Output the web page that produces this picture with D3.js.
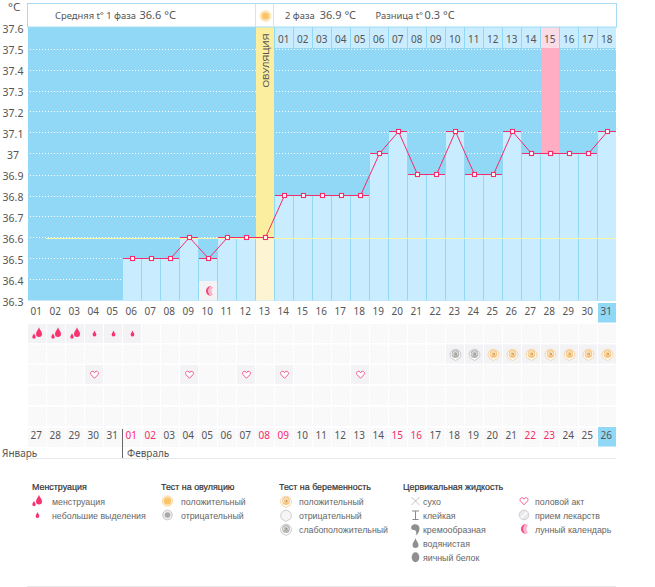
<!DOCTYPE html>
<html><head><meta charset="utf-8">
<script src="https://cdn.jsdelivr.net/npm/d3@7"></script>
<style>
html,body{margin:0;padding:0;background:#fff}
svg{display:block}
text{font-family:"Noto Sans","Open Sans",sans-serif;fill:#555}
.axis path,.axis line{display:none}
.lg text,text.lg{font-family:"Liberation Sans",Arial,sans-serif}
</style></head><body><div id="c"></div>
<script>
const days = d3.range(1, 32);
const topDates = ["01","02","03","04","05","06","07","08","09","10","11","12","13","14","15","16","17","18","19","20","21","22","23","24","25","26","27","28","29","30","31"];
const bottomDates = ["27","28","29","30","31","01","02","03","04","05","06","07","08","09","10","11","12","13","14","15","16","17","18","19","20","21","22","23","24","25","26"];
const redBottomDays = [6,7,13,14,20,21,27,28];
const phase2Labels = ["01","02","03","04","05","06","07","08","09","10","11","12","13","14","15","16","17","18"];
const phase2Days = d3.range(14, 32);
const temps = [null,null,null,null,null,36.5,36.5,36.5,36.6,36.5,36.6,36.6,36.6,36.8,36.8,36.8,36.8,36.8,37.0,37.1,36.9,36.9,37.1,36.9,36.9,37.1,37.0,37.0,37.0,37.0,37.1];
const yTicks = [36.3,36.4,36.5,36.6,36.7,36.8,36.9,37,37.1,37.2,37.3,37.4,37.5,37.6];
const gridTicks = [36.3,36.4,36.5,36.6,36.7,36.8,36.9,37,37.1,37.2,37.3,37.4,37.5];
const ovulationDay = 13, highlightDay = 28, currentDay = 31, moonDay = 10, monthBreakDay = 6;
const heavyDays = [1,2,3], lightDays = [4,5,6];
const testNegDays = [23,24], testPosDays = [25,26,27,28,29,30,31];
const loveDays = [4,9,12,14,18];
const legendColumns = [
 {title:"Менструация", items:[["менструация","heavy"],["небольшие выделения","light"]]},
 {title:"Тест на овуляцию", items:[["положительный","ovPos"],["отрицательный","ovNeg"]]},
 {title:"Тест на беременность", items:[["положительный","prPos"],["отрицательный","prNeg"],["слабоположительный","prWeak"]]},
 {title:"Цервикальная жидкость", items:[["сухо","dry"],["клейкая","sticky"],["кремообразная","creamy"],["водянистая","watery"],["яичный белок","egg"]]},
 {title:"", items:[["половой акт","love"],["прием лекарств","pill"],["лунный календарь","moon"]]}
];

const W = 655, H = 587;
const svg = d3.select("#c").append("svg").attr("width",W).attr("height",H);
const defs = svg.append("defs");
const hatch = defs.append("pattern").attr("id","hatch").attr("width",3).attr("height",3).attr("patternUnits","userSpaceOnUse");
hatch.append("rect").attr("width",3).attr("height",3).attr("fill","#fbfbfc");
hatch.append("path").attr("d","M0,3L3,0").attr("stroke","#f5f5f8").attr("stroke-width",1);
const hatchY = defs.append("pattern").attr("id","hatchY").attr("width",3).attr("height",3).attr("patternUnits","userSpaceOnUse");
hatchY.append("rect").attr("width",3).attr("height",3).attr("fill","#fdf6d8");
hatchY.append("path").attr("d","M0,3L3,0").attr("stroke","#fbf0c4").attr("stroke-width",1);

const x = d3.scaleBand().domain(days).range([28,617]).paddingInner(0).paddingOuter(0);
const cx = d => x(d) + 9.5;
const y = d3.scaleLinear().domain([36.3,37.6]).range([300.4,26.75]);
const yv = d => Math.floor(y(temps[d-1])) + .5;
const yGrid = d3.scaleLinear().domain([36.3,37.6]).range([300.5,27.5]);
const BLUE="#90d8f5", BAR="#c9ecfe", SEP="#93d9f4", RED="#f72c6a";

const fs = (sel,s)=>sel.attr("font-size",s);

svg.append("rect").attr("x",28).attr("y",27).attr("width",588).attr("height",273.5).attr("fill",BLUE);
svg.append("g").selectAll("line").data(gridTicks).join("line")
 .attr("x1",27).attr("x2",616).attr("y1",d=>Math.round(yGrid(d))+.5).attr("y2",d=>Math.round(yGrid(d))+.5)
 .attr("stroke","#fff").attr("stroke-dasharray","1 2").attr("stroke-width",1);
svg.append("rect").attr("x",x(highlightDay)).attr("y",48).attr("width",18).attr("height",yv(highlightDay)-48).attr("fill","#ffadc3");
const valid = days.filter(d=>temps[d-1]!=null);
svg.append("g").selectAll("rect").data(valid.filter(d=>d!==ovulationDay)).join("rect")
 .attr("x",d=>x(d)).attr("y",d=>yv(d)).attr("width",d=>d===31?18:19)
 .attr("height",d=>300.5-yv(d)).attr("fill",BAR);
svg.append("g").selectAll("line").data(valid.filter(d=>d<31)).join("line")
 .attr("x1",d=>x(d)+18.5-5e-3).attr("x2",d=>x(d)+18.5)
 .attr("y1",d=>yv(d)).attr("y2",300.5).attr("stroke",SEP);
svg.append("rect").attr("x",x(ovulationDay)).attr("y",27).attr("width",18).attr("height",yv(ovulationDay)-27).attr("fill","#fcee9f");
svg.append("rect").attr("x",x(ovulationDay)).attr("y",yv(ovulationDay)).attr("width",18).attr("height",300.5-yv(ovulationDay)).attr("fill","url(#hatchY)");
fs(svg.append("text").attr("class","lg").attr("transform",`translate(268.5,87.5) rotate(-90)`).text("ОВУЛЯЦИЯ"),9.7);
svg.append("line").attr("x1",46).attr("x2",616).attr("y1",yv(9)+1).attr("y2",yv(9)+1).attr("stroke","#fbf3a6").attr("stroke-width",1);
svg.append("rect").attr("x",x(moonDay)).attr("y",281).attr("width",18).attr("height",19.5).attr("fill","#f3f2f4");

// header
svg.append("rect").attr("x",27.5).attr("y",3.5).attr("width",589).attr("height",23.5).attr("fill","#fff").attr("stroke","#a5dcf4");
svg.append("g").selectAll("line").data([256,274]).join("line")
 .attr("x1",d=>d-.5).attr("x2",d=>d-.5).attr("y1",3.5).attr("y2",27).attr("stroke","#c5e8f7");
function hdr(xp,label,val,dx){
  const t=svg.append("text").attr("x",xp).attr("y",19).attr("font-size",9.4);
  t.append("tspan").text(label);
  t.append("tspan").attr("font-size",11).attr("dx",dx).text(val);
}
hdr(55,"Средняя t° 1 фаза","36.6 °C",3.5);
hdr(285,"2 фаза","36.9 °C",5);
hdr(375.5,"Разница t°","0.3 °C",1.5);

// phase-2 day labels
svg.append("g").selectAll("rect").data(phase2Days).join("rect")
 .attr("x",d=>x(d)).attr("y",27.5).attr("width",18).attr("height",20.5).attr("fill",d=>d===highlightDay?"#fadbe6":BAR);
svg.append("g").selectAll("text").data(phase2Days).join("text")
 .attr("x",d=>cx(d)-.7).attr("y",43).attr("text-anchor","middle").attr("font-size",10).text((d,i)=>phase2Labels[i]);

// Y axis
const yAxis = svg.append("g").attr("class","axis").attr("transform","translate(13,2)")
 .call(d3.axisLeft(yGrid).tickValues(yTicks).tickSize(0).tickPadding(0).tickFormat(d=>String(+d.toFixed(1))));
yAxis.selectAll("text").attr("font-size",10.5).attr("text-anchor","middle").style("fill","#555");
fs(svg.append("text").attr("x",8).attr("y",11).text("°C"),11.5);

// caps, line, markers
svg.append("g").selectAll("line").data(valid).join("line")
 .attr("x1",d=>x(d)).attr("x2",d=>x(d)+18).attr("y1",yv).attr("y2",yv)
 .attr("stroke",RED).attr("stroke-width",1);
const line = d3.line().defined(d=>temps[d-1]!=null).x(cx).y(yv);
svg.append("path").attr("d",line(days)).attr("fill","none").attr("stroke",RED).attr("stroke-width",1);
svg.append("g").selectAll("rect").data(valid).join("rect")
 .attr("x",d=>cx(d)-2).attr("y",d=>yv(d)-2).attr("width",4).attr("height",4)
 .attr("fill","#fff").attr("stroke",RED).attr("stroke-width",1.1);

// icons
function drop(g,r,c,dx=0,dy=0){
  g.append("path").attr("transform",`translate(${dx},${dy})`).attr("fill",c)
   .attr("d",`M0,${-1.9*r}C${.3*r},${-r} ${r},${-.4*r} ${r},${.3*r}A${r},${r} 0 1 1 ${-r},${.3*r}C${-r},${-.4*r} ${-.3*r},${-r} 0,${-1.9*r}Z`);
}
const icons = {
 heavy(g){drop(g,3,"#f9336f",1.5,-.5);drop(g,1.7,"#f9336f",-3.5,3);},
 light(g){drop(g,1.9,"#f9336f",0,.5);},
 ovPos(g){g.append("circle").attr("r",5.2).attr("fill","#fdeac4").attr("stroke","#fad596").attr("stroke-width",.8);g.append("circle").attr("r",3.6).attr("fill","#f9c46a");},
 ovNeg(g){g.append("circle").attr("r",4.8).attr("fill","#eee").attr("stroke","#c9c9c9");g.append("circle").attr("r",2.8).attr("fill","#aaa");},
 prPos(g){test(g,"#f5d5a5","#f5c684");},
 prNeg(g){g.append("path").attr("d","M0,6.5L-4,4.2A5.4,5.4 0 1 1 4,4.2Z").attr("fill","#f5f5f5").attr("stroke","#bbb").attr("stroke-width",.7);},
 prWeak(g){test(g,"#ccc","#b5b5b5");},
 dry(g){g.append("path").attr("d","M-4,-4L4,4M4,-4L-4,4").attr("stroke","#999").attr("stroke-width",.6);},
 sticky(g){g.append("path").attr("d","M-3.5,-4H3.5M0,-4V4M-3,4.5H3").attr("stroke","#8a8a8a").attr("stroke-width",1).attr("fill","none");},
 creamy(g){g.append("path").attr("d","M-4,-3C-2,-6 4,-5 4,-1C4,3 2,6 0,6C2,3 0,1 -2,1C-4,1 -5,-1 -4,-3Z").attr("fill","#8f8f8f");},
 watery(g){drop(g,3,"#8f8f8f",0,1);},
 egg(g){g.append("ellipse").attr("rx",3.8).attr("ry",5).attr("cy",.3).attr("fill","#8f8f8f");},
 love(g){g.append("path").attr("d","M0,3.8L-3.4,.2C-4.8,-1.6 -3.4,-3.6 -1.6,-3.2C-.8,-3 -.2,-2.4 0,-1.8C.2,-2.4 .8,-3 1.6,-3.2C3.4,-3.6 4.8,-1.6 3.4,.2Z").attr("fill","#fff").attr("stroke","#f45a8a").attr("stroke-width",1);},
 pill(g){g.append("circle").attr("r",4.8).attr("fill","#e9e9ec").attr("stroke","#cfcfd4");g.append("path").attr("d","M-3,3L3,-3").attr("stroke","#fff").attr("stroke-width",1.2);},
 moon(g){g.append("path").attr("d","M2,-5A5,5 0 1 0 2,5A6,6 0 0 1 2,-5Z").attr("fill","#f8457e");
   g.append("path").attr("d","M2,-5A6,6 0 0 0 2,5A4.5,4.5 0 0 0 4,3.6A5,5 0 0 1 4,-3.6A4.5,4.5 0 0 0 2,-5Z").attr("fill","#fcb6cc");}
};
function test(g,c1,c2){
  g.append("path").attr("d","M0,6.5L-4,4.2A5.4,5.4 0 1 1 4,4.2Z").attr("fill","#fff").attr("stroke",c1).attr("stroke-width",1);
  g.append("circle").attr("r",3.9).attr("fill",c2);
  g.append("path").attr("d","M-2,1.5A2.4,2.4 0 1 1 2,1").attr("fill","none").attr("stroke","#fff").attr("stroke-width",.9).attr("opacity",.75);
  g.append("circle").attr("cx",.7).attr("r",.8).attr("fill","#a08a6a");
}
function place(parent,key,px,py){ const g=parent.append("g").attr("transform",`translate(${px},${py})`); icons[key](g); return g; }

place(svg,"ovPos",265.5,16);
place(svg,"moon",cx(moonDay)+.5,291);

// table rows
const rowTops=[324,344.5,365,386,407,428];
const rows = svg.append("g");
rowTops.forEach(t=>{
  rows.append("g").selectAll("rect").data(days).join("rect")
   .attr("x",d=>x(d)).attr("y",t).attr("width",18).attr("height",19).attr("fill","url(#hatch)");
});
function mark(list,row,key){
  list.forEach(d=>{
    rows.append("rect").attr("x",x(d)).attr("y",rowTops[row]).attr("width",18).attr("height",19).attr("fill","#f3f2f5");
    place(rows,key,cx(d),rowTops[row]+9.5);
  });
}
mark(heavyDays,0,"heavy"); mark(lightDays,0,"light");
mark(testNegDays,1,"prWeak"); mark(testPosDays,1,"prPos");
mark(loveDays,2,"love");

[303,427].forEach(t=>svg.append("rect").attr("x",x(currentDay)).attr("y",t).attr("width",18).attr("height",19.5).attr("fill",BLUE));

// date axes
const topAxis = svg.append("g").attr("class","axis").attr("transform","translate(-1.2,308)")
 .call(d3.axisBottom(x).tickSize(0).tickPadding(0).tickFormat((d,i)=>topDates[i]));
topAxis.selectAll("text").attr("font-size",10).style("fill","#555");
const botAxis = svg.append("g").attr("class","axis").attr("transform","translate(-1.2,432)")
 .call(d3.axisBottom(x).tickSize(0).tickPadding(0).tickFormat((d,i)=>bottomDates[i]));
botAxis.selectAll("text").attr("font-size",10).style("fill",d=>redBottomDays.includes(d)?"#f72c6a":"#555");

// months
svg.append("line").attr("x1",122.5).attr("x2",122.5).attr("y1",429).attr("y2",458).attr("stroke","#666");
fs(svg.append("text").attr("x",2).attr("y",457).text("Январь"),10);
fs(svg.append("text").attr("x",x(monthBreakDay)+4).attr("y",457).text("Февраль"),10);
svg.append("line").attr("x1",27).attr("x2",616).attr("y1",458.5).attr("y2",458.5).attr("stroke","#e8e8e8");

// legend
const legendX=[32,161,279,403,521], legendTextX=[52,181,299,423,535], legendIconX=[37.5,167.5,286,415.5,524];
const lg = svg.append("g").attr("class","lg");
legendColumns.forEach((col,ci)=>{
  if(col.title) lg.append("text").attr("x",legendX[ci]).attr("y",490).attr("font-size",8.9).style("fill","#333").style("stroke","#333").style("stroke-width",.2).text(col.title);
  col.items.forEach((it,ri)=>{
    const py=501+14*ri;
    place(lg,it[1],legendIconX[ci],py);
    lg.append("text").attr("x",legendTextX[ci]).attr("y",py+3.5).attr("font-size",8.8).style("fill","#666").text(it[0]);
  });
});
svg.append("line").attr("x1",27).attr("x2",616).attr("y1",586.5).attr("y2",586.5).attr("stroke","#e8e8e8");
</script></body></html>
